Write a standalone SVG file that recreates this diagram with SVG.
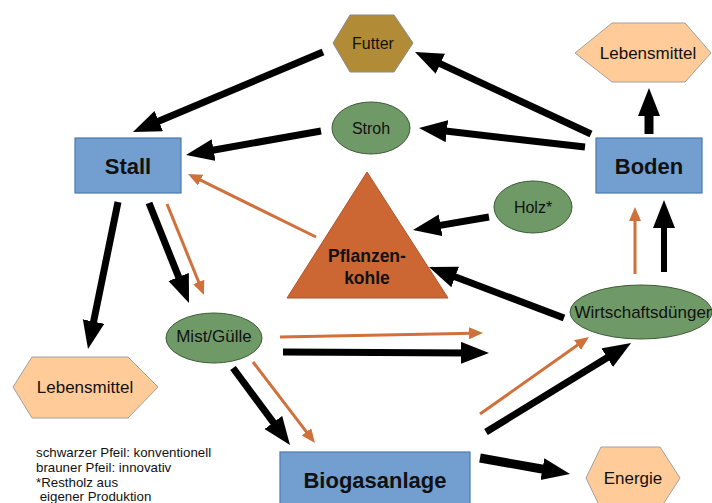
<svg xmlns="http://www.w3.org/2000/svg" width="712" height="503" viewBox="0 0 712 503">
<style>
text{font-family:"Liberation Sans",Arial,sans-serif;fill:#111;text-anchor:middle;dominant-baseline:central}
.lbl{font-size:17px}
.big{font-size:22px;font-weight:bold}
.box{fill:#729fcf;stroke:#4a7ab5;stroke-width:1.2}
.grn{fill:#6f9a68;stroke:#3d5a37;stroke-width:1}
.food{fill:#ffcc99;stroke:#a0a0a0;stroke-width:1}
.blk{stroke:#000;stroke-width:7;fill:none;marker-end:url(#hb)}
.brn{stroke:#d0703a;stroke-width:3;fill:none;marker-end:url(#hr)}
.leg{font-size:13.3px;text-anchor:start;dominant-baseline:auto}
</style>
<defs>
<marker id="hb" markerUnits="userSpaceOnUse" markerWidth="30" markerHeight="24" refX="8" refY="11" orient="auto"><path d="M0,0 L28,11 L0,22 z" fill="#000"/></marker>
<marker id="hr" markerUnits="userSpaceOnUse" markerWidth="16" markerHeight="14" refX="4" refY="6" orient="auto"><path d="M0,0 L14,6 L0,12 z" fill="#d0703a"/></marker>
</defs>
<rect width="712" height="503" fill="#fff"/>
<g id="connectors">
<line class="blk" x1="323" y1="52" x2="151.4" y2="124.2"/>
<line class="blk" x1="591" y1="134" x2="433.1" y2="60.4"/>
<line class="blk" x1="585" y1="147" x2="438.9" y2="130.3"/>
<line class="blk" x1="321" y1="131" x2="205.7" y2="151.5"/>
<line class="blk" style="stroke-width:9" x1="649" y1="134" x2="649" y2="108"/>
<line class="blk" x1="489" y1="217" x2="432.7" y2="226.6"/>
<line class="blk" style="stroke-width:6" x1="664" y1="272" x2="664" y2="220"/>
<line class="brn" x1="635" y1="274" x2="635" y2="217"/>
<line class="blk" x1="564" y1="318" x2="447.7" y2="274.1"/>
<line class="blk" x1="118" y1="202" x2="92" y2="329.4"/>
<line class="blk" x1="149" y1="203" x2="181.6" y2="284.4"/>
<line class="brn" x1="167" y1="204" x2="200.2" y2="285.7"/>
<line class="brn" x1="280" y1="337" x2="473" y2="333.2"/>
<line class="blk" x1="283" y1="352" x2="469" y2="352.9"/>
<line class="blk" x1="233" y1="368" x2="278.1" y2="428.9"/>
<line class="brn" x1="253" y1="362" x2="308.9" y2="435.1"/>
<line class="brn" x1="480" y1="414" x2="580.8" y2="342.8"/>
<line class="blk" x1="486" y1="432" x2="614" y2="353.5"/>
<line class="blk" style="stroke-width:9" x1="480" y1="458" x2="550.3" y2="470.5"/>
<line class="brn" x1="316" y1="237" x2="197" y2="178.4"/>
</g>
<g id="futter">
<polygon points="333,43 350,15 394,15 413,43 394,72 350,72" fill="#b28b36" stroke="#8a8a8a" stroke-width="1"/>
<text class="lbl" x="373" y="43" style="font-size:16px">Futter</text>
</g>
<g id="lebensmittel-oben">
<polygon class="food" points="575,53 612,23 685,23 711,53 685,82 612,82"/>
<text class="lbl" x="648" y="53">Lebensmittel</text>
</g>
<g id="stroh">
<ellipse class="grn" cx="371" cy="128" rx="39" ry="26"/>
<text class="lbl" x="371" y="128" style="font-size:16px">Stroh</text>
</g>
<g id="stall">
<rect class="box" x="75" y="138" width="106" height="55"/>
<text class="big" x="128" y="166">Stall</text>
</g>
<g id="boden">
<rect class="box" x="596" y="138" width="106" height="55"/>
<text class="big" x="649" y="166">Boden</text>
</g>
<g id="pflanzenkohle">
<polygon points="367,172 287,298 448,298" fill="#cc6633" stroke="#b0552a" stroke-width="1"/>
<text x="367" y="256" style="font-size:17.5px;font-weight:bold">Pflanzen-</text>
<text x="367" y="278" style="font-size:17.5px;font-weight:bold">kohle</text>
</g>
<g id="holz">
<ellipse class="grn" cx="533" cy="207" rx="39" ry="26"/>
<text class="lbl" x="533" y="207" style="font-size:16px">Holz*</text>
</g>
<g id="mist">
<ellipse class="grn" cx="214" cy="338" rx="48" ry="25"/>
<text class="lbl" x="214" y="336">Mist/Gülle</text>
</g>
<g id="wirtschaftsduenger">
<ellipse class="grn" cx="641" cy="312" rx="71" ry="27"/>
<text class="lbl" x="643" y="312">Wirtschaftsdünger</text>
</g>
<g id="lebensmittel-unten">
<polygon class="food" points="13,387 32,357 128,357 158,387 128,418 32,418"/>
<text class="lbl" x="85" y="387">Lebensmittel</text>
</g>
<g id="biogasanlage">
<rect class="box" x="280" y="452" width="190" height="60"/>
<text class="big" x="375" y="480">Biogasanlage</text>
</g>
<g id="energie">
<polygon class="food" points="586,478 601,447 660,447 680,478 660,509 601,509"/>
<text class="lbl" x="633" y="478">Energie</text>
</g>
<g id="legende">
<text class="leg" x="36" y="457">schwarzer Pfeil: konventionell</text>
<text class="leg" x="36" y="472">brauner Pfeil: innovativ</text>
<text class="leg" x="36" y="487">*Restholz aus</text>
<text class="leg" x="36" y="501" xml:space="preserve"> eigener Produktion</text>
</g>
</svg>
